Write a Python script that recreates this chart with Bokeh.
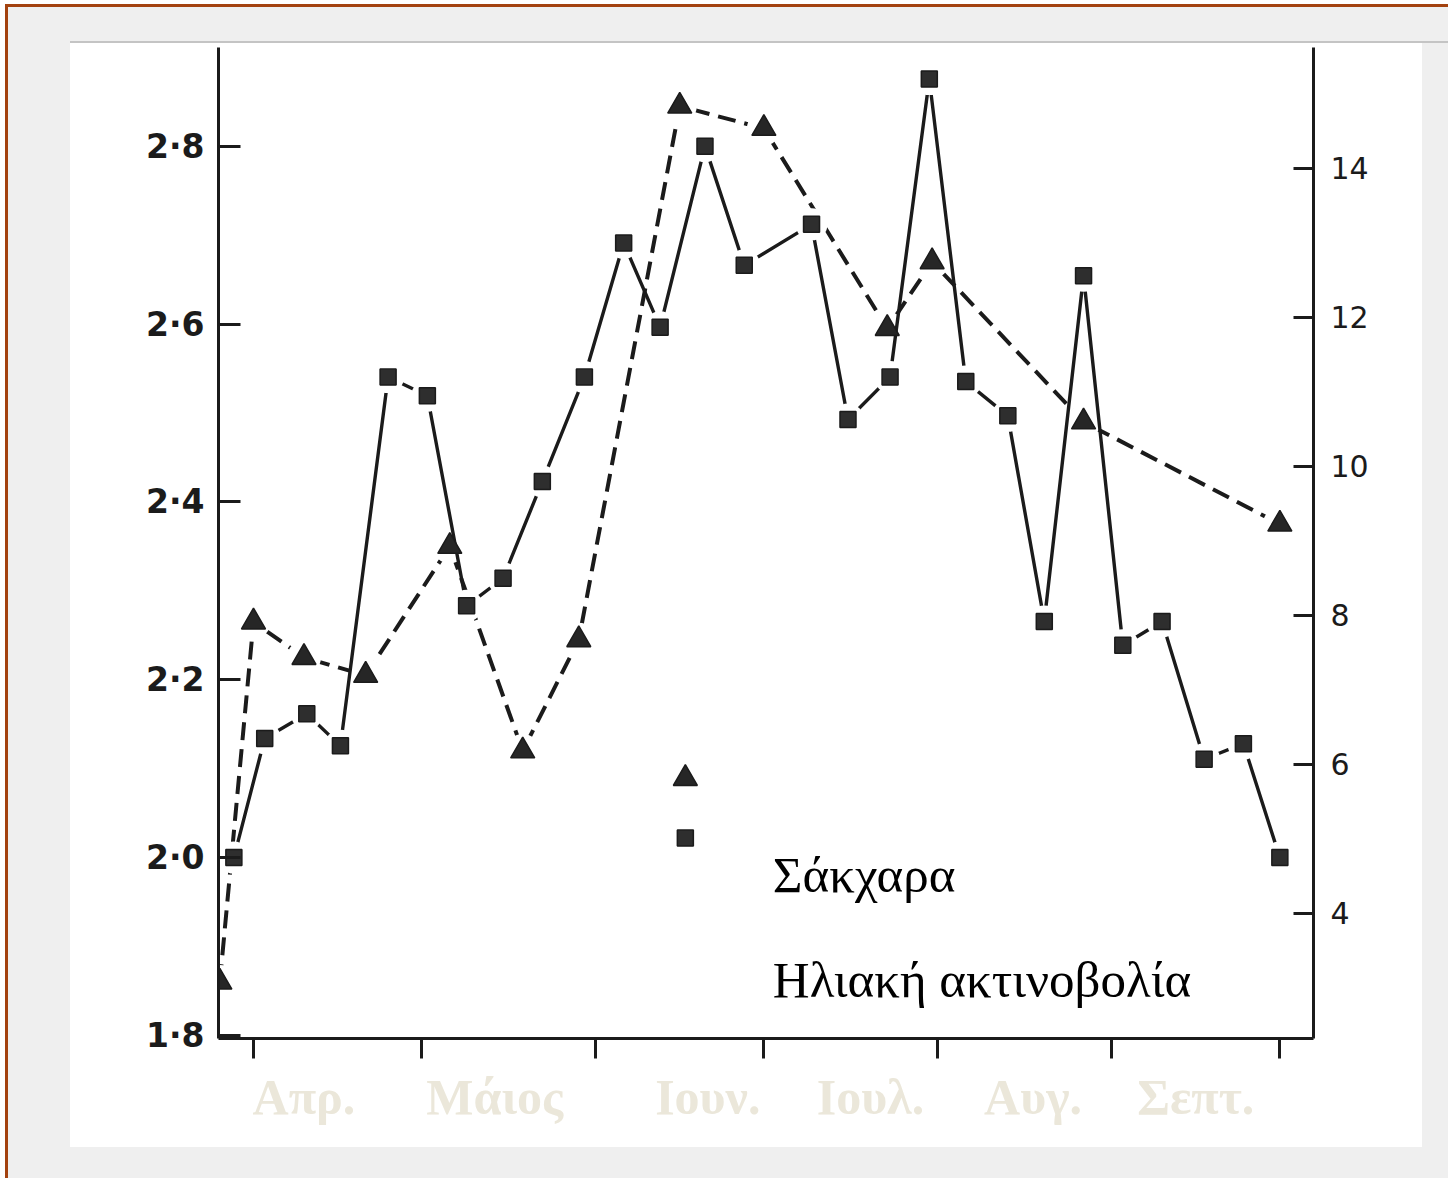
from bokeh.plotting import figure
from bokeh.models import Range1d, LinearAxis, FixedTicker, Label, CustomJSTickFormatter
from bokeh.embed import file_html
from bokeh.resources import INLINE

# ---- data (x = days after 1 April) ----
sugar_day = [-6, 0, 9, 20, 35, 48, 58, 76, 91, 113, 121, 148, 183]
sugar_pct = [1.86, 2.265, 2.225, 2.205, 2.35, 2.12, 2.245, 2.845, 2.82, 2.595, 2.67, 2.49, 2.375]

rad_day = [-3.5, 2, 9.5, 15.5, 24, 31, 38, 44.5, 51.5, 59, 66, 72.5, 80.5, 87.5,
           99.5, 106, 113.5, 120.5, 127, 134.5, 141, 148, 155, 162, 169.5, 176.5, 183]
rad_val = [4.75, 6.35, 6.68, 6.25, 11.2, 10.95, 8.13, 8.5, 9.8, 11.2, 13.0, 11.87, 14.3, 12.7,
           13.25, 10.63, 11.2, 15.2, 11.14, 10.68, 7.92, 12.56, 7.6, 7.92, 6.07, 6.28, 4.75]

month_start_day = [0, 30, 61, 91, 122, 153, 183]
month_names = ["Απρ.", "Μάιος", "Ιουν.", "Ιουλ.", "Αυγ.", "Σεπτ."]
sugar_ticks = [1.8, 2.0, 2.2, 2.4, 2.6, 2.8]
rad_ticks = [4, 6, 8, 10, 12, 14]
series_names = ["Σάκχαρα", "Ηλιακή ακτινοβολία"]

# ---- layout ----
OFF_X, OFF_Y = 8, 7           # canvas offset created by the page border
W, H = 1451 - OFF_X, 1181 - OFF_Y
FRAME_L, FRAME_R, FRAME_T, FRAME_B = 218, 1313, 47, 1038
month_label_day = [9, 43, 81, 110, 139, 168]
KEY_X = 77
KEY_Y = [2.089, 2.022]
TEXT_X = 92.6
TEXT_Y = [1.980, 1.862]

INK = "#1b1b1b"
RUST = "#a3420f"
BEIGE = "#ebe7da"

paper_bg = (
    "linear-gradient(#c4c4c4,#c4c4c4) 62px 34px / 1400px 2px no-repeat, "
    "linear-gradient(#ffffff,#ffffff) 62px 36px / 1352px 1104px no-repeat, "
    "#efefef"
)

p = figure(
    width=W, height=H,
    x_range=Range1d(-6.24, 189.0),
    y_range=Range1d(1.7966, 2.911),
    x_axis_type=None, y_axis_type=None,
    output_backend="svg", toolbar_location=None,
    min_border_left=FRAME_L - OFF_X,
    min_border_right=(1451 - FRAME_R),
    min_border_top=FRAME_T - OFF_Y,
    min_border_bottom=(1181 - FRAME_B),
)
p.extra_y_ranges = {"rad": Range1d(2.322, 15.624)}
p.grid.visible = False
p.outline_line_color = None
p.background_fill_color = "white"
p.border_fill_color = None
p.styles = {
    "margin-left": "5px",
    "margin-top": "4px",
    "border-left": f"3px solid {RUST}",
    "border-top": f"3px solid {RUST}",
    "background": paper_bg,
}

# ---- axes ----
left = LinearAxis(
    ticker=FixedTicker(ticks=sugar_ticks),
    formatter=CustomJSTickFormatter(code="return tick.toFixed(1).replace('.', '\u00b7')"),
)
left.axis_line_width = 3
left.axis_line_color = INK
left.major_tick_in = 22
left.major_tick_out = 0
left.major_tick_line_width = 3
left.major_tick_line_color = INK
left.minor_tick_line_color = None
left.major_label_standoff = 14
left.major_label_text_font = "DejaVu Sans"
left.major_label_text_font_size = "33px"
left.major_label_text_font_style = "bold"
left.major_label_text_color = INK
p.add_layout(left, "left")

right = LinearAxis(y_range_name="rad", ticker=FixedTicker(ticks=rad_ticks))
right.axis_line_width = 3
right.axis_line_color = INK
right.major_tick_in = 20
right.major_tick_out = 0
right.major_tick_line_width = 3
right.major_tick_line_color = INK
right.minor_tick_line_color = None
right.major_label_standoff = 17
right.major_label_text_font = "DejaVu Sans"
right.major_label_text_font_size = "30px"
right.major_label_text_color = INK
p.add_layout(right, "right")

# month boundaries as tick marks, month names between them
months = LinearAxis(
    ticker=FixedTicker(ticks=month_label_day, minor_ticks=month_start_day),
    major_label_overrides={d: n for d, n in zip(month_label_day, month_names)},
)
months.axis_line_width = 3
months.axis_line_color = INK
months.major_tick_line_color = None
months.major_tick_out = 0
months.major_tick_in = 0
months.minor_tick_out = 20
months.minor_tick_in = 0
months.minor_tick_line_width = 3
months.minor_tick_line_color = INK
months.major_label_standoff = 10
months.major_label_text_font = "Liberation Serif"
months.major_label_text_font_style = "bold"
months.major_label_text_font_size = "50px"
months.major_label_text_color = BEIGE
p.add_layout(months, "below")

# ---- series ----
p.line(sugar_day, sugar_pct, line_color=INK, line_width=4, line_dash="18 9")
p.scatter(sugar_day, sugar_pct, marker="circle", size=34, fill_color="white", line_color=None)

p.line(rad_day, rad_val, y_range_name="rad", line_color=INK, line_width=3.4)
p.scatter(rad_day, rad_val, y_range_name="rad", marker="circle", size=32,
          fill_color="white", line_color=None)

p.scatter(sugar_day, sugar_pct, marker="triangle", size=24,
          fill_color="#262626", line_color=INK, line_width=1.5)
p.scatter(rad_day, rad_val, y_range_name="rad", marker="square", size=16,
          fill_color="#2e2e2e", line_color=INK, line_width=1.5)

# ---- key ----
p.scatter([KEY_X], [KEY_Y[0]], marker="triangle", size=24, fill_color="#262626",
          line_color=INK, line_width=1.5)
p.scatter([KEY_X], [KEY_Y[1]], marker="square", size=16, fill_color="#2e2e2e",
          line_color=INK, line_width=1.5)
for name, ty in zip(series_names, TEXT_Y):
    p.add_layout(Label(x=TEXT_X, y=ty, text=name, text_font="Liberation Serif",
                       text_font_size="51px", text_color="black",
                       text_baseline="alphabetic", text_align="left"))

open("out.html", "w").write(file_html(p, INLINE))
